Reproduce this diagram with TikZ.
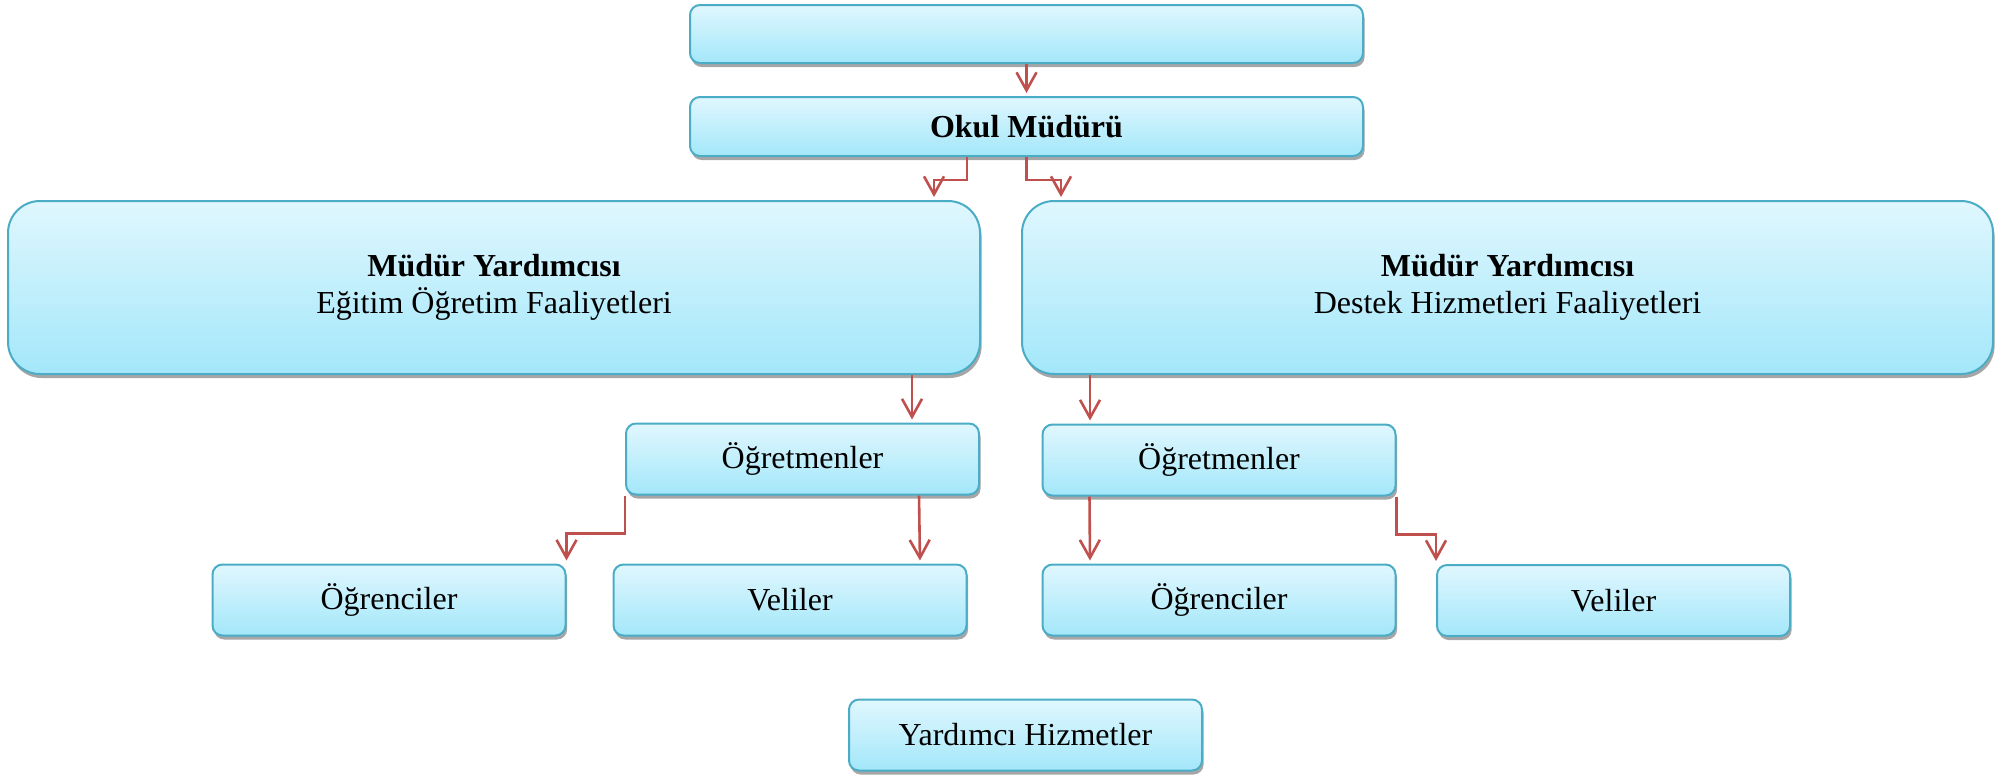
\documentclass[tikz,border=0pt]{standalone}
\usepackage{fontspec}
\setmainfont{Liberation Serif}
\usetikzlibrary{arrows.meta,shadows}
\definecolor{kenar}{HTML}{4BACC6}
\definecolor{acik}{HTML}{E0F7FE}
\definecolor{koyu}{HTML}{A3E7FA}
\definecolor{okrenk}{HTML}{C0504D}
\begin{document}
\begin{tikzpicture}[x=0.5pt,y=-0.5pt,>={Straight Barb[length=9pt,width=10pt]},
	kutu/.style={draw=kenar,line width=1pt,top color=acik,bottom color=koyu,rounded corners=5pt,
		drop shadow={shadow xshift=0.8pt,shadow yshift=-2pt,fill=gray!70,opacity=1},
		inner sep=0pt,font=\fontsize{16}{18.5}\selectfont},
	kucuk/.style={kutu,minimum width=176.5pt,minimum height=35.5pt},
	buyuk/.style={kutu,rounded corners=16pt,minimum width=486pt,minimum height=86.5pt,align=center},
	ok/.style={->,draw=okrenk,line width=1.3pt,shorten >=1.5pt}]
				\useasboundingbox (0,0) rectangle (2011,777);
				\node[kutu,minimum width=336.5pt,minimum height=29pt] (ust) at (1026.5,34) {};
				\node[kutu,minimum width=336.5pt,minimum height=29.5pt,font=\fontsize{16}{18.5}\selectfont\bfseries] (okul) at (1026.5,126.5) {Okul Müdürü};
				\node[buyuk] (egitim) at (494,287.5) {\textbf{Müdür Yardımcısı}\\Eğitim Öğretim Faaliyetleri};
				\node[buyuk,minimum width=485.5pt] (destek) at (1507.5,287.5) {\textbf{Müdür Yardımcısı}\\Destek Hizmetleri Faaliyetleri};
				\node[kucuk] (ogretmen1) at (802.5,459) {Öğretmenler};
				\node[kucuk] (ogretmen2) at (1219,460) {Öğretmenler};
				\node[kucuk] (ogrenci1) at (389,600) {Öğrenciler};
				\node[kucuk] (veli1) at (790,600) {Veliler};
				\node[kucuk] (ogrenci2) at (1219,600) {Öğrenciler};
				\node[kucuk] (veli2) at (1613.5,600.5) {Veliler};
				\node[kucuk] (yardimci) at (1025.5,735) {Yardımcı Hizmetler};
				\draw[ok] (ust) -- (okul);
				\draw[ok] ([xshift=-29.75pt]okul.south) -- ++(0,23) -| ([xshift=-23.5pt]egitim.north east);
				\draw[ok] (okul.south) -- ++(0,23) -| ([xshift=20pt]destek.north west);
				\draw[ok] ([xshift=-34.5pt]egitim.south east) -- ([xshift=-34pt]ogretmen1.north east);
				\draw[ok] ([xshift=34.5pt]destek.south west) -- ([xshift=24.25pt]ogretmen2.north west);
				\draw[ok] (ogretmen1.south west) -- ++(0,38) -| (ogrenci1.north east);
				\draw[ok] ([xshift=-30.5pt]ogretmen1.south east) -- ([xshift=-23.75pt]veli1.north east);
				\draw[ok] ([xshift=24pt]ogretmen2.south west) -- ([xshift=24.25pt]ogrenci2.north west);
				\draw[ok] (ogretmen2.south east) -- ++(0,38) -| (veli2.north west);
\end{tikzpicture}
\end{document}
